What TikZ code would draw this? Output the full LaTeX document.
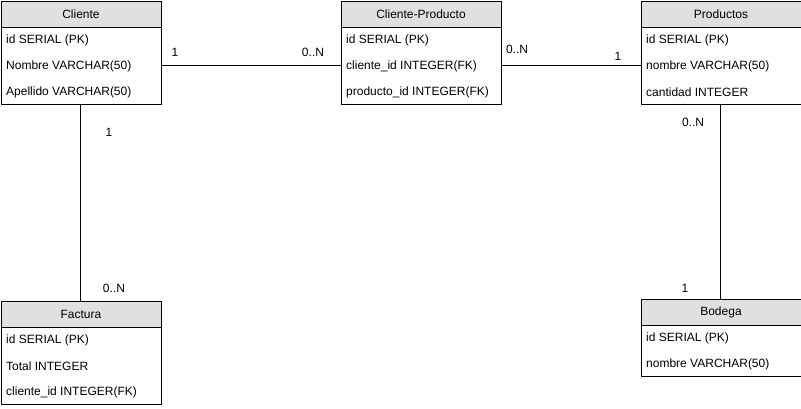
\documentclass[tikz,border=0pt]{standalone}
\usepackage{fontspec}
\setmainfont{Liberation Sans}
\definecolor{hdrgray}{HTML}{E0E0E0}
\begin{document}
\begin{tikzpicture}[x=1pt,y=-1pt,
  every node/.style={font=\fontsize{12}{14}\selectfont, inner sep=0pt},
  hdr/.style={draw=black, line width=1pt, fill=hdrgray, minimum width=160pt, minimum height=26pt, anchor=north west},
  body/.style={draw=black, line width=1pt, fill=white, minimum width=160pt, anchor=north west},
  rowtxt/.style={anchor=west},
  conn/.style={draw=black, line width=1pt},
  card/.style={anchor=center}]
\useasboundingbox (0,0) rectangle (801,408);

% Cliente
\node[body, minimum height=78pt] (cliB) at (0.5,26) {};
\node[hdr] (cliH) at (0.5,0.5) {Cliente};
\node[rowtxt] (cli1) at (6,40.5) {id SERIAL (PK)};
\node[rowtxt] (cli2) at (6,66.5) {Nombre VARCHAR(50)};
\node[rowtxt] (cli3) at (6,92.5) {Apellido VARCHAR(50)};

% Cliente-Producto
\node[body, minimum height=78pt] (cpB) at (340.5,26) {};
\node[hdr] (cpH) at (340.5,0.5) {Cliente-Producto};
\node[rowtxt] (cp1) at (346,40.5) {id SERIAL (PK)};
\node[rowtxt] (cp2) at (346,66.5) {cliente\_id INTEGER(FK)};
\node[rowtxt] (cp3) at (346,92.5) {producto\_id INTEGER(FK)};

% Productos
\node[body, minimum height=78pt] (prB) at (640.5,26) {};
\node[hdr] (prH) at (640.5,0.5) {Productos};
\node[rowtxt] (pr1) at (646,40.5) {id SERIAL (PK)};
\node[rowtxt] (pr2) at (646,66.5) {nombre VARCHAR(50)};
\node[rowtxt] (pr3) at (646,92.5) {cantidad INTEGER};

% Factura
\node[body, minimum height=78pt] (faB) at (0.5,326) {};
\node[hdr] (faH) at (0.5,300.5) {Factura};
\node[rowtxt] (fa1) at (6,340.5) {id SERIAL (PK)};
\node[rowtxt] (fa2) at (6,366.5) {Total INTEGER};
\node[rowtxt] (fa3) at (6,392.5) {cliente\_id INTEGER(FK)};

% Bodega
\node[body, minimum height=52pt] (boB) at (640.5,324) {};
\node[hdr] (boH) at (640.5,298.5) {Bodega};
\node[rowtxt] (bo1) at (646,338.5) {id SERIAL (PK)};
\node[rowtxt] (bo2) at (646,364.5) {nombre VARCHAR(50)};

% Connectors
\coordinate (c1a) at (cliB.east |- 0,65.5);
\coordinate (c1b) at (cpB.west |- 0,65.5);
\draw[conn] (c1a) -- (c1b);
\coordinate (c2a) at (cpB.east |- 0,65.5);
\coordinate (c2b) at (prB.west |- 0,65.5);
\draw[conn] (c2a) -- (c2b);
\coordinate (c3a) at ([xshift=-0.5pt]cliB.south);
\coordinate (c3b) at ([xshift=-0.5pt]faH.north);
\draw[conn] (c3a) -- (c3b);
\coordinate (c4a) at ([xshift=-0.5pt]prB.south);
\coordinate (c4b) at ([xshift=-0.5pt]boH.north);
\draw[conn] (c4a) -- (c4b);

% Cardinalities
\node[card] (l1) at (175,52) {1};
\node[card] (l2) at (313,52) {0..N};
\node[card] (l3) at (517,49) {0..N};
\node[card] (l4) at (618,56) {1};
\node[card] (l5) at (109,132) {1};
\node[card] (l6) at (114,288.5) {0..N};
\node[card] (l7) at (693,122.5) {0..N};
\node[card] (l8) at (685,288) {1};
\end{tikzpicture}
\end{document}
